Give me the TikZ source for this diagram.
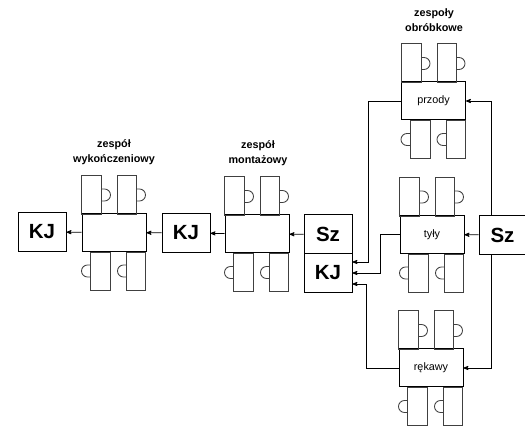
\documentclass[tikz,border=0pt]{standalone}
\usepackage{fontspec}
\setmainfont{Liberation Sans}
\usetikzlibrary{arrows}

% one assembly group: the box and its four work places, #3 is the centre of the box
\newcommand{\zespol}[3]{
\node (#1) at (#3) [zesp] {#2};
\begin{scope}[shift={(#1.south west)}]
% upper row
\draw[stan] (0,38) rectangle (20,77);
\draw[stan] (36,38) rectangle (55,77);
\draw[stan] (20,51) -- ++(3,0) arc (-90:90:6) -- ++(-3,0);
\draw[stan] (55,51) -- ++(3,0) arc (-90:90:6) -- ++(-3,0);
% lower row
\draw[stan] (9,0) rectangle (29,-38);
\draw[stan] (45,0) rectangle (64,-38);
\draw[stan] (9,-25) -- ++(-3,0) arc (270:90:6) -- ++(3,0);
\draw[stan] (45,-25) -- ++(-3,0) arc (270:90:6) -- ++(3,0);
\end{scope}
}

\begin{document}
\begin{tikzpicture}
[x=1pt,y=1pt,
line width=0.8pt,
zesp/.style ={rectangle, draw=black, line width=1pt, fill=white, inner sep=0pt,
minimum width=64pt, minimum height=38pt, font=\fontsize{10.8}{10.8}\selectfont},
stan/.style ={draw=black!75, line width=0.85pt},
kontrola/.style ={rectangle, draw=black, line width=1pt, inner sep=0pt,
minimum width=48pt, minimum height=39pt, font=\fontsize{20.5}{20.5}\selectfont\bfseries},
opis/.style ={align=center, inner sep=0pt, font=\fontsize{10.8}{15}\selectfont\bfseries}]

\useasboundingbox (0,0) rectangle (525,-427);

% work groups
\zespol{przody}{przody}{433.5,-101}
\zespol{tyly}{tyły}{432,-234.5}
\zespol{rekawy}{rękawy}{431,-368}
\zespol{montaz}{}{257,-234}
\zespol{wykon}{}{114,-232.5}

% control posts
\node (sz1) at (502.5,-235) [kontrola, minimum width=47pt] {Sz};
\node (sz2) at (328,-234.5) [kontrola] {Sz};
\node (kj1) at (328,-273) [kontrola] {KJ};
\node (kj2) at (186,-233) [kontrola] {KJ};
\node (kj3) at (42,-232) [kontrola] {KJ};

% labels
\node (opis1) at (434,-20) [opis] {zespoły\\obróbkowe};
\node (opis2) at (258,-153) [opis] {zespół\\montażowy};
\node (opis3) at (114,-152) [opis] {zespół\\wykończeniowy};

\draw[-stealth'] ([xshift=-11pt]sz1.north) |- (przody.east);
\draw[-stealth'] (sz1) -- (tyly);
\draw[-stealth'] ([xshift=-11pt]sz1.south) |- (rekawy.east);
\draw[-stealth'] (przody.west) -- ++(-33,0) |- ([yshift=11pt]kj1.east);
\draw[-stealth'] (tyly.west) -- ++(-19,0) |- (kj1.east);
\draw[-stealth'] (rekawy.west) -- ++(-32,0) |- ([yshift=-11pt]kj1.east);
\draw[-stealth'] (sz2) -- (montaz);
\draw[-stealth'] (montaz) -- (kj2);
\draw[-stealth'] (kj2) -- (wykon);
\draw[-stealth'] (wykon) -- (kj3);
\end{tikzpicture}
\end{document}
